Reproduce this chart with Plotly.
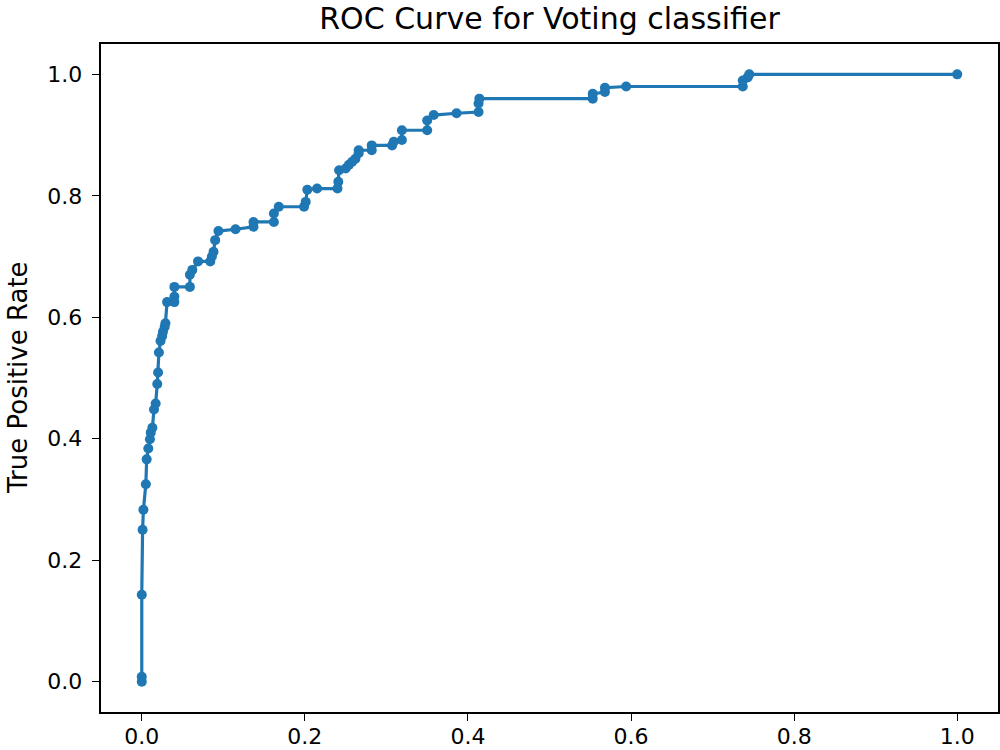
import plotly.graph_objects as go

# ROC curve points (false positive rate, true positive rate)
fpr = [0.000, 0.000, 0.000, 0.001, 0.002, 0.005, 0.006, 0.008, 0.010, 0.011,
       0.013, 0.015, 0.017, 0.019, 0.020, 0.021, 0.023, 0.025, 0.026, 0.028,
       0.029, 0.031, 0.040, 0.040, 0.040, 0.059, 0.059, 0.062, 0.069, 0.084,
       0.086, 0.088, 0.090, 0.094, 0.115, 0.137, 0.137, 0.162, 0.162, 0.168,
       0.199, 0.201, 0.203, 0.215, 0.240, 0.241, 0.242, 0.250, 0.254, 0.258,
       0.262, 0.266, 0.266, 0.282, 0.282, 0.307, 0.309, 0.319, 0.319, 0.350,
       0.350, 0.358, 0.386, 0.413, 0.413, 0.414, 0.553, 0.553, 0.568, 0.568,
       0.594, 0.737, 0.737, 0.743, 0.745, 1.000]
tpr = [0.000, 0.008, 0.143, 0.250, 0.283, 0.325, 0.366, 0.384, 0.399, 0.410,
       0.418, 0.448, 0.458, 0.490, 0.509, 0.542, 0.561, 0.569, 0.576, 0.584,
       0.590, 0.625, 0.625, 0.634, 0.650, 0.650, 0.670, 0.678, 0.692, 0.692,
       0.700, 0.708, 0.727, 0.742, 0.745, 0.749, 0.757, 0.757, 0.771, 0.782,
       0.782, 0.790, 0.810, 0.812, 0.812, 0.823, 0.842, 0.845, 0.851, 0.856,
       0.861, 0.870, 0.875, 0.875, 0.883, 0.883, 0.889, 0.892, 0.908, 0.908,
       0.924, 0.933, 0.936, 0.938, 0.952, 0.960, 0.960, 0.968, 0.971, 0.978,
       0.980, 0.980, 0.990, 0.995, 1.000, 1.000]

tick_vals = [0.0, 0.2, 0.4, 0.6, 0.8, 1.0]
tick_text = ["0.0", "0.2", "0.4", "0.6", "0.8", "1.0"]

FONT = "DejaVu Sans"
BLUE = "#1f77b4"

fig = go.Figure()
fig.add_trace(go.Scatter(
    x=fpr, y=tpr, mode="lines+markers",
    line=dict(color=BLUE, width=3.2),
    marker=dict(color=BLUE, size=10),
    showlegend=False,
))

axis_common = dict(
    showgrid=False, zeroline=False, automargin=False,
    showline=True, linecolor="black", linewidth=1.5, mirror=True,
    ticks="outside", ticklen=7.6, tickwidth=1.4, tickcolor="black",
    tickvals=tick_vals, ticktext=tick_text,
    tickfont=dict(family=FONT, size=22, color="black"),
)

fig.update_layout(
    width=1000, height=750,
    paper_bgcolor="white", plot_bgcolor="white",
    margin=dict(l=101, r=2, t=44, b=38, autoexpand=False),
    xaxis=dict(range=[-0.05, 1.05], ticklabelstandoff=-4, **axis_common),
    yaxis=dict(range=[-0.05, 1.05], ticklabelstandoff=5, **axis_common),
    title=dict(
        text="ROC Curve for Voting classifier",
        font=dict(family=FONT, size=30, color="black"),
        xref="paper", x=0.5, xanchor="center",
        yref="container", y=1 - 18 / 750, yanchor="middle",
    ),
    annotations=[dict(
        text="True Positive Rate", textangle=-90,
        xref="paper", yref="paper", x=(18 - 101) / 897, y=0.5,
        xanchor="center", yanchor="middle", showarrow=False,
        font=dict(family=FONT, size=26, color="black"),
    )],
)

fig.write_html("out.html")
